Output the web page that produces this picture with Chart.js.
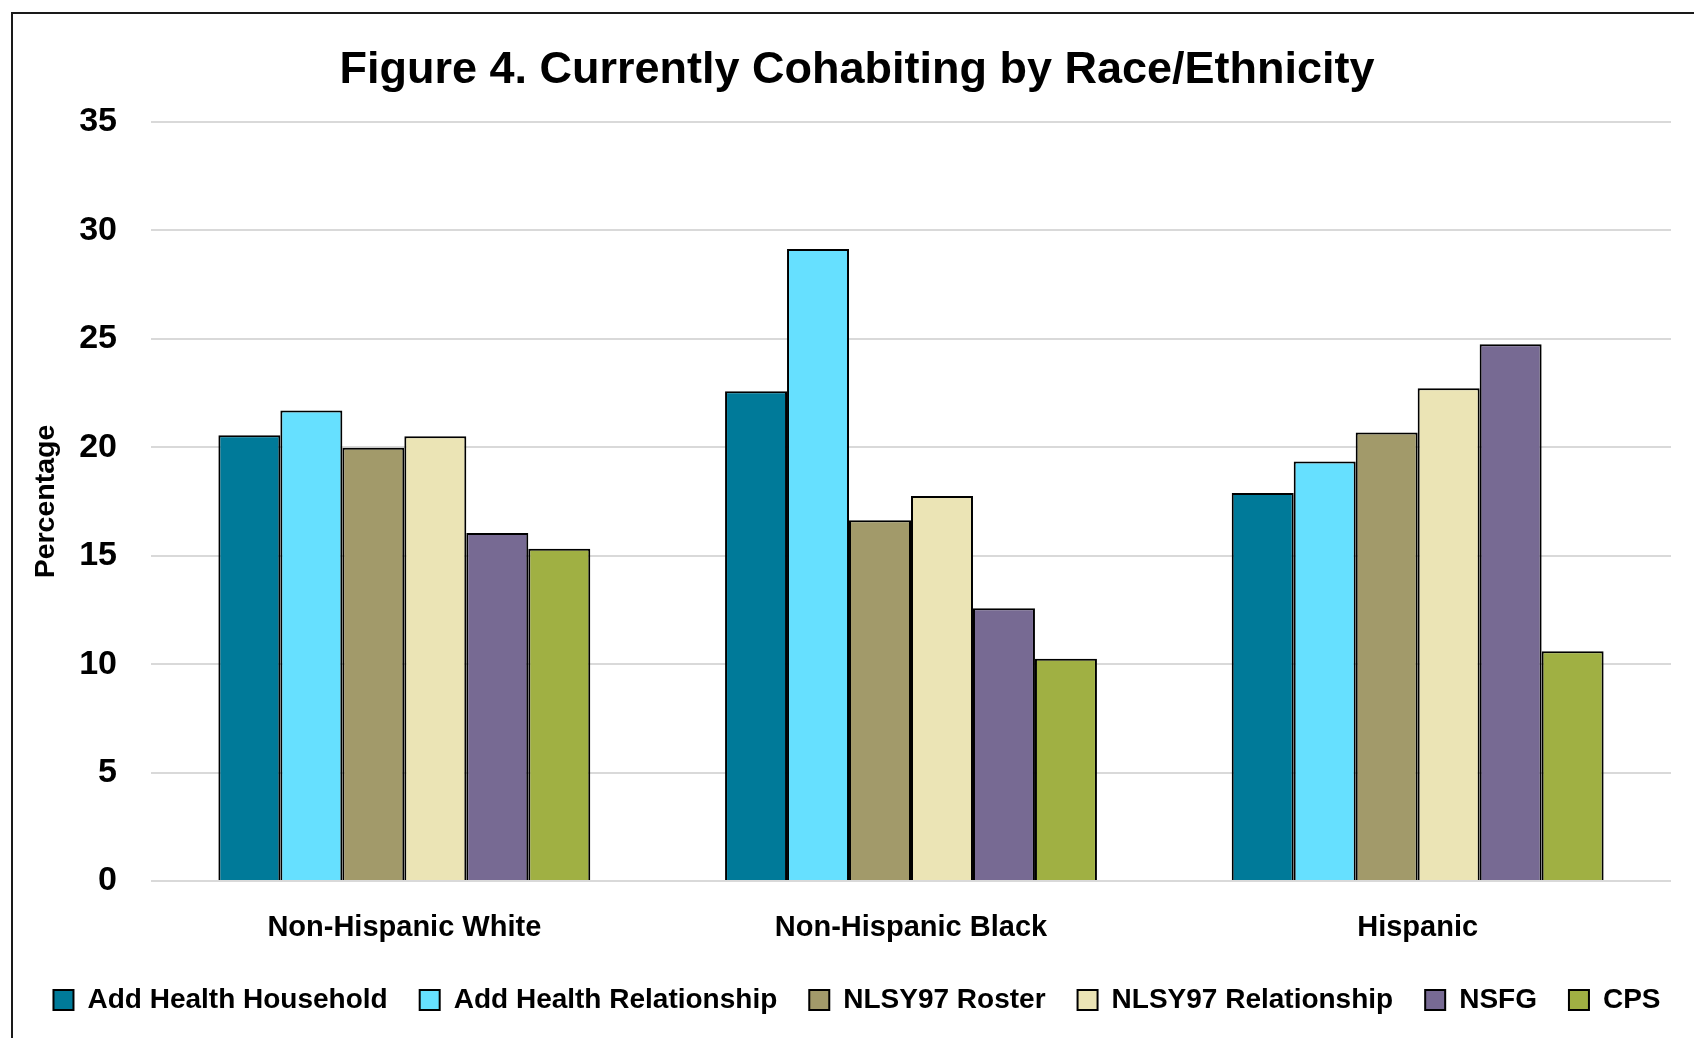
<!DOCTYPE html>
<html>
<head>
<meta charset="utf-8">
<script src="https://cdn.jsdelivr.net/npm/chart.js@4.4.1/dist/chart.umd.min.js"></script>
<style>
    html, body { margin: 0; padding: 0; background: #fff; overflow: hidden; }
    #wrap { position: relative; width: 1694px; height: 1038px; }
    #frame {
        position: absolute; left: 11px; top: 12px; width: 1720px; height: 1100px;
        border-left: 2px solid #1a1a1a; border-top: 2px solid #1a1a1a;
        pointer-events: none;
    }
</style>
</head>
<body>
<div id="wrap">
    <canvas id="chart" width="1694" height="1038"></canvas>
    <div id="frame"></div>
</div>
<script>
const categories = ['Non-Hispanic White', 'Non-Hispanic Black', 'Hispanic'];
const seriesNames = ['Add Health Household', 'Add Health Relationship', 'NLSY97 Roster', 'NLSY97 Relationship', 'NSFG', 'CPS'];
const addHealthHousehold = [20.55, 22.58, 17.89];
const addHealthRelationship = [21.70, 29.14, 19.34];
const nlsy97Roster = [19.98, 16.64, 20.68];
const nlsy97Relationship = [20.51, 17.75, 22.72];
const nsfg = [16.05, 12.58, 24.75];
const cps = [15.32, 10.25, 10.59];
const yTicks = [0, 5, 10, 15, 20, 25, 30, 35];

const seriesColors = ['#007a99', '#66e0ff', '#a29a6a', '#ebe4b5', '#776a93', '#a0b043'];
const seriesValues = [addHealthHousehold, addHealthRelationship, nlsy97Roster, nlsy97Relationship, nsfg, cps];

const fontFamily = "'Liberation Sans', Arial, sans-serif";

const ctx = document.getElementById('chart').getContext('2d');
new Chart(ctx, {
    type: 'bar',
    data: {
        labels: categories,
        datasets: seriesNames.map((name, i) => ({
            label: name,
            data: seriesValues[i],
            yAxisID: 'y',
            backgroundColor: seriesColors[i],
            borderColor: '#000',
            borderWidth: 2,
            barPercentage: 1,
            categoryPercentage: 0.734
        }))
    },
    options: {
        responsive: false,
        animation: false,
        layout: { padding: { left: 20, right: 0, top: 0, bottom: 14 } },
        plugins: {
            title: {
                display: true,
                text: 'Figure 4. Currently Cohabiting by Race/Ethnicity',
                color: '#000',
                font: { family: fontFamily, size: 45, weight: 'bold' },
                padding: { top: 44, bottom: 24 }
            },
            legend: {
                position: 'bottom',
                labels: {
                    color: '#000',
                    boxWidth: 20,
                    boxHeight: 20,
                    padding: 32,
                    font: { family: fontFamily, size: 28, weight: 'bold' }
                }
            },
            tooltip: { enabled: false }
        },
        scales: {
            x: {
                grid: { display: false },
                border: { display: false },
                ticks: {
                    color: '#000',
                    padding: 22,
                    font: { family: fontFamily, size: 29, weight: 'bold' }
                },
                afterFit: scale => { scale.height = 73; }
            },
            y: {
                min: 0,
                max: 35,
                afterBuildTicks: axis => { axis.ticks = yTicks.map(v => ({ value: v })); },
                afterFit: scale => { scale.width = 131; },
                grid: { color: '#d9d9d9', lineWidth: 2, drawTicks: false },
                border: { display: false },
                ticks: {
                    color: '#000',
                    padding: 34,
                    font: { family: fontFamily, size: 34, weight: 'bold' }
                },
                title: {
                    display: true,
                    text: 'Percentage',
                    color: '#000',
                    padding: { top: 9, bottom: 0 },
                    font: { family: fontFamily, size: 28.5, weight: 'bold' }
                }
            },
            // empty right-hand axis, only keeps the gap at the right of the plot
            yRight: {
                position: 'right',
                grid: { display: false },
                border: { display: false },
                ticks: { display: false },
                afterFit: scale => { scale.width = 23; }
            }
        }
    }
});
</script>
</body>
</html>
